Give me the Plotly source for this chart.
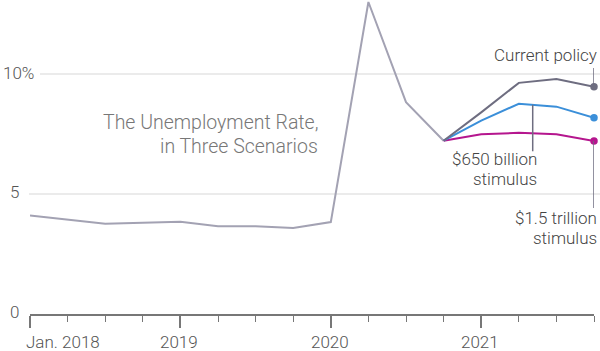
import plotly.graph_objects as go

quarters = ["2018 Q1", "2018 Q2", "2018 Q3", "2018 Q4",
            "2019 Q1", "2019 Q2", "2019 Q3", "2019 Q4",
            "2020 Q1", "2020 Q2", "2020 Q3", "2020 Q4",
            "2021 Q1", "2021 Q2", "2021 Q3", "2021 Q4"]
historical = [4.1, 3.92, 3.76, 3.8, 3.84, 3.66, 3.66, 3.58, 3.83, 13.0, 8.83, 7.22]
current_policy = [7.22, 8.4, 9.63, 9.79, 9.47]
stim_650b = [7.22, 8.06, 8.76, 8.64, 8.18]
stim_1_5t = [7.22, 7.49, 7.55, 7.49, 7.21]
year_labels = ["Jan. 2018", "2019", "2020", "2021"]
y_labels = ["0", "5", "10%"]
y_vals = [0, 5, 10]

idx = list(range(len(quarters)))
hist_x = idx[:len(historical)]
scen_x = idx[len(historical) - 1:]

FONT = "Roboto"
WEIGHT = 300
HIST_C = "#a3a2b3"
CUR_C = "#6e6d80"
BLUE_C = "#3b8fd9"
MAG_C = "#b5168e"
TXT_C = "#444444"

fig = go.Figure()
fig.add_trace(go.Scatter(x=hist_x, y=historical, mode="lines",
                         line=dict(color=HIST_C, width=2), hoverinfo="skip"))
for vals, col in [(stim_1_5t, MAG_C), (stim_650b, BLUE_C), (current_policy, CUR_C)]:
    fig.add_trace(go.Scatter(x=scen_x, y=vals, mode="lines",
                             line=dict(color=col, width=2), hoverinfo="skip"))
    fig.add_trace(go.Scatter(x=[scen_x[-1]], y=[vals[-1]], mode="markers",
                             marker=dict(color=col, size=7.5), hoverinfo="skip",
                             cliponaxis=False))

L, R = 30, 6
W = 600 - L - R
def px_to_paper(px):
    return (px - L) / W

shapes = []
# gridlines
for v, start_px in [(5, 29), (10, 40)]:
    shapes.append(dict(type="line", xref="paper", yref="y",
                       x0=px_to_paper(start_px), x1=px_to_paper(600), y0=v, y1=v,
                       line=dict(color="#e4e4e4", width=1.5), layer="below"))

last = idx[-1]
# leader lines
shapes.append(dict(type="line", xref="x", yref="y", x0=last, x1=last,
                   y0=current_policy[-1], y1=10.25, line=dict(color=CUR_C, width=1.5)))
shapes.append(dict(type="line", xref="x", yref="y", x0=last, x1=last,
                   y0=stim_1_5t[-1], y1=4.42, line=dict(color=CUR_C, width=1.5)))
lx = 13.37
ly = stim_650b[2] + (stim_650b[3] - stim_650b[2]) * (lx - 13)
shapes.append(dict(type="line", xref="x", yref="y", x0=lx, x1=lx,
                   y0=ly, y1=6.78, line=dict(color=CUR_C, width=1.5)))

annotations = []
def ann(text, x, y, xanchor, size=17, color=TXT_C, xref="x", yref="y", xshift=0, yshift=0):
    annotations.append(dict(text=text, x=x, y=y, xref=xref, yref=yref,
                            xanchor=xanchor, yanchor="middle", showarrow=False,
                            xshift=xshift, yshift=yshift,
                            font=dict(family=FONT, size=size, color=color, weight=WEIGHT)))

ann("Current policy", last, 10.79, "right", xshift=5)
ann("$650 billion", 13.37, 6.44, "right", xshift=6)
ann("stimulus", 13.37, 5.63, "right", xshift=6)
ann("$1.5 trillion", last, 3.99, "right", xshift=5)
ann("stimulus", last, 3.18, "right", xshift=5)
ann("The Unemployment Rate,", 8.0, 8.0, "right", size=19.5, color="#777777", xshift=-11)
ann("in Three Scenarios", 8.0, 7.0, "right", size=19.5, color="#777777", xshift=-11)

# y labels
for lab, v in zip(y_labels, y_vals):
    if lab.endswith("%"):
        ann(lab, px_to_paper(1), v, "left", color="#555555", xref="paper", yshift=1)
    else:
        ann(lab, px_to_paper(21), v, "right", color="#555555", xref="paper", yshift=2)

# x labels
for i, lab in enumerate(year_labels):
    q = i * 4
    annotations.append(dict(text=lab, x=q, y=0, xref="x", yref="y",
                            xanchor="left" if i == 0 else "center",
                            yanchor="middle", showarrow=False,
                            xshift=-6 if i == 0 else -1, yshift=-28,
                            font=dict(family=FONT, size=17, color="#555555", weight=WEIGHT)))

fig.update_layout(
    width=600, height=351,
    margin=dict(l=L, r=R, t=0, b=37),
    paper_bgcolor="white", plot_bgcolor="white",
    showlegend=False,
    shapes=shapes, annotations=annotations,
    xaxis=dict(range=[0, last], showgrid=False, zeroline=False,
               showline=True, linecolor="#777777", linewidth=1.5,
               tickmode="linear", tick0=0, dtick=4, ticks="outside",
               ticklen=12, tickwidth=1.5, tickcolor="#777777",
               showticklabels=False,
               minor=dict(tickmode="linear", tick0=0, dtick=1, ticks="outside",
                          ticklen=6, tickwidth=1.2, tickcolor="#777777"),
               fixedrange=True),
    yaxis=dict(range=[0, 314 / 24], showgrid=False, zeroline=False,
               showticklabels=False, fixedrange=True),
)

fig.write_html("out.html", config={"displayModeBar": False})
